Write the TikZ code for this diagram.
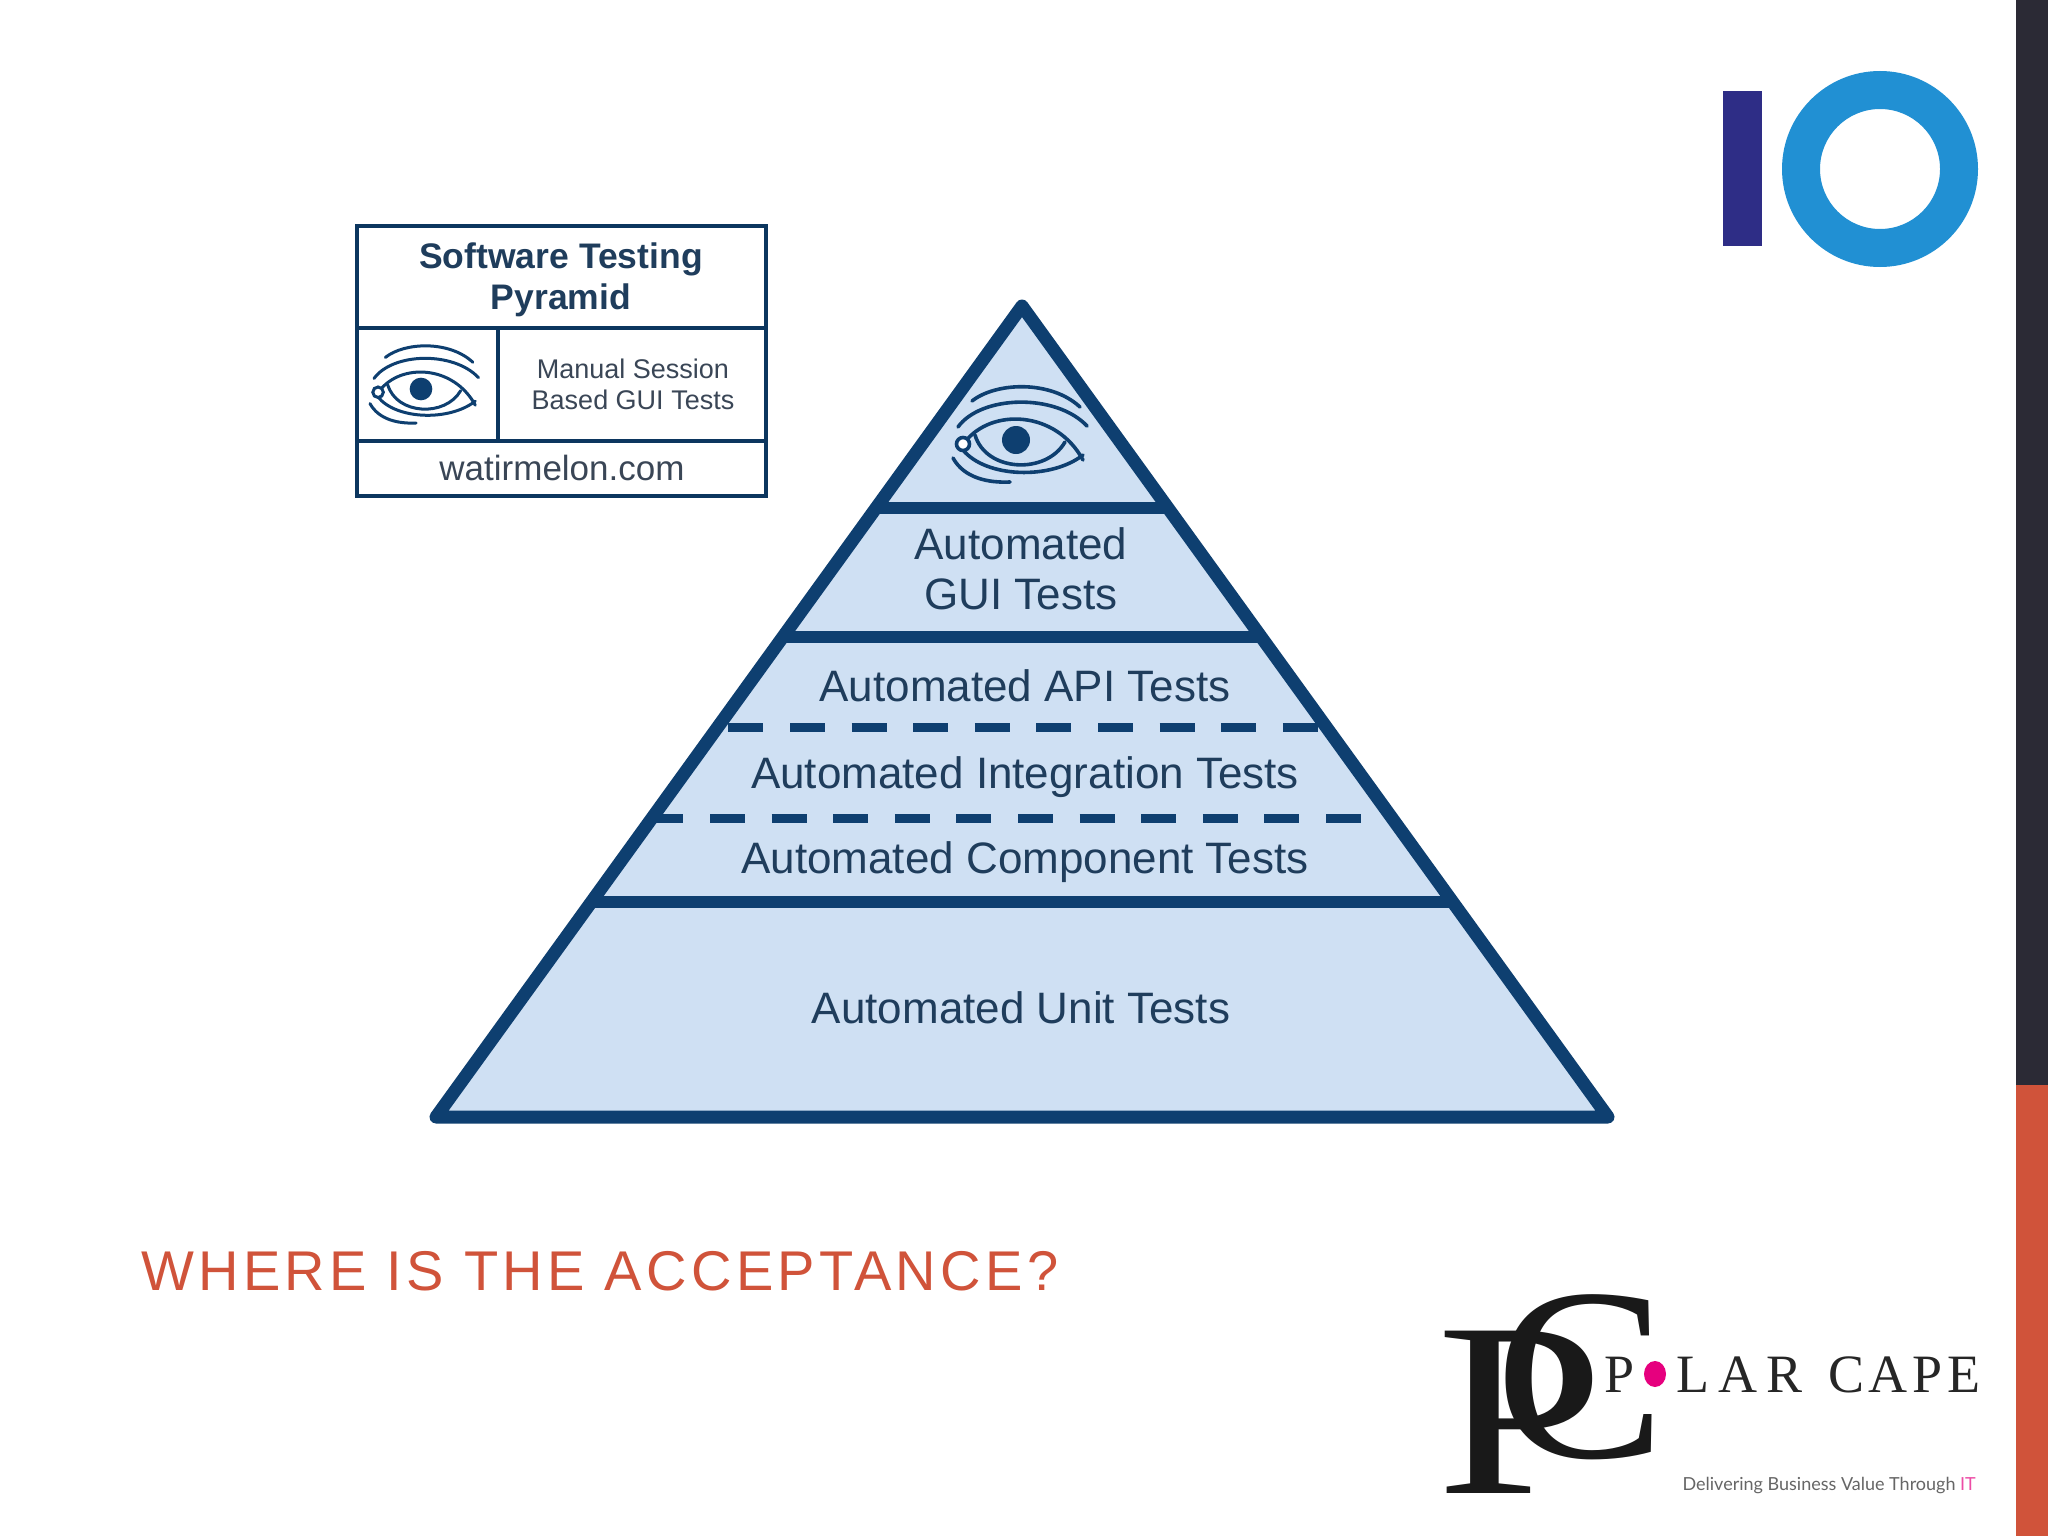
\documentclass[tikz,border=0pt]{standalone}
\usepackage{fontspec}
\setmainfont{Liberation Sans}
\newfontfamily\serifface{Liberation Serif}
\newfontfamily\larface[LetterSpace=17]{Liberation Serif}
\newfontfamily\capeface[LetterSpace=9]{Liberation Serif}
\newfontfamily\titleface[LetterSpace=7.8]{Liberation Sans}
\newfontfamily\tagface{Lato}
\definecolor{pyrline}{HTML}{0E3F70}
\definecolor{pyrfill}{HTML}{CFE0F3}
\definecolor{pyrtext}{HTML}{1F3D5C}
\definecolor{boxtext}{HTML}{3A4656}
\definecolor{barDark}{HTML}{2B2A35}
\definecolor{barOrange}{HTML}{D0533A}
\definecolor{ioDark}{HTML}{2E2D86}
\definecolor{ioBlue}{HTML}{2190D3}
\definecolor{dotPink}{HTML}{E6007E}
\newcommand{\fs}[1]{\fontsize{#1pt}{#1pt}\selectfont}
\tikzset{
  x=1pt,y=-1pt,
  edge/.style={draw=pyrline,line width=13pt,line join=round},
  sep/.style={draw=pyrline,line width=12pt},
  dashsep/.style={draw=pyrline,line width=9pt,dash pattern=on 35pt off 26.6pt},
  boxline/.style={draw=pyrline!85!black,line width=3.4pt,line cap=rect},
  label/.style={inner sep=0pt,align=center,text=pyrtext},
  boxlabel/.style={inner sep=0pt,align=center,text=boxtext},
  eyepic/.pic={
    \begin{scope}[draw=pyrline,line cap=round]
    \draw (-44,-39) .. controls (-20,-58) and (35,-60) .. (64,-33);
    \draw (-58,-13) .. controls (-35,-45) and (40,-47) .. (71,-14);
    \draw (-51,2) .. controls (-25,-32) and (40,-30) .. (67,20);
    \draw (-53,10) .. controls (-30,38) and (35,40) .. (67,15);
    \draw (-41,-5) .. controls (-30,32) and (30,35) .. (49,2);
    \draw (-63,18) .. controls (-52,38) and (-28,43) .. (-6,42);
    \fill[pyrline] (0,0) circle (14);
    \draw[fill=white] (-53,4) circle (6.5);
    \end{scope}
  }
}
\begin{document}
\begin{tikzpicture}
\useasboundingbox (0,0) rectangle (2048,1536);
\fill[white] (0,0) rectangle (2048,1536);
% side bar
\fill[barDark] (2016,0) rectangle (2048,1085);
\fill[barOrange] (2016,1085) rectangle (2048,1536);
% IO logo
\fill[ioDark] (1723,91) rectangle (1762,246);
\fill[ioBlue,even odd rule] (1880,169) circle (98) (1880,169) circle (60);
% pyramid
\coordinate (apex) at (1022,306);
\coordinate (bl) at (436,1117);
\coordinate (br) at (1608,1117);
\fill[pyrfill] (apex) -- (bl) -- (br) -- cycle;
\coordinate (s1l) at (874,508);  \coordinate (s1r) at (1170,508);
\coordinate (s2l) at (782,637);  \coordinate (s2r) at (1262,637);
\coordinate (s3l) at (589,902);  \coordinate (s3r) at (1455,902);
\coordinate (d1l) at (728.4,727); \coordinate (d1r) at (1320,727);
\coordinate (d2l) at (648.4,818); \coordinate (d2r) at (1364,818);
\draw[dashsep] (d1l) -- (d1r);
\draw[dashsep] (d2l) -- (d2r);
\draw[sep] (s1l) -- (s1r);
\draw[sep] (s2l) -- (s2r);
\draw[sep] (s3l) -- (s3r);
\draw[edge] (apex) -- (bl) -- (br) -- cycle;
\pic[line width=3.6pt] at (1016,440) {eyepic};
\node[label,font=\fs{44}] (gui) at (1021,569) {Automated\\[6pt]GUI Tests};
\node[label,font=\fs{44}] (api) at (1025,686) {Automated API Tests};
\node[label,font=\fs{44}] (int) at (1025,777) {Automated Integration Tests};
\node[label,font=\fs{44}] (comp) at (1025,862) {Automated Component Tests};
\node[label,font=\fs{44}] (unit) at (1021,1008) {Automated Unit Tests};
% legend
\coordinate (ltl) at (357,226); \coordinate (lbr) at (766,496);
\draw[boxline] (ltl) rectangle (lbr);
\coordinate (h1l) at (357,328); \coordinate (h1r) at (766,328);
\coordinate (h2l) at (357,441); \coordinate (h2r) at (766,441);
\coordinate (v1t) at (498,328); \coordinate (v1b) at (498,441);
\draw[boxline] (h1l) -- (h1r);
\draw[boxline] (h2l) -- (h2r);
\draw[boxline] (v1t) -- (v1b);
\node[inner sep=0pt,align=center,text=pyrtext,font=\bfseries\fs{35.5}] (ltitle) at (561,280) {Software Testing\\[6pt]Pyramid};
\node[boxlabel,font=\fs{27}] (lmanual) at (633,384) {Manual Session\\[4pt]Based GUI Tests};
\node[boxlabel,font=\fs{35}] (lsite) at (562,468) {watirmelon.com};
\pic[line width=3pt,scale=.81] at (421,389) {eyepic};
% title
\node[inner sep=0pt,anchor=base west,text=barOrange,font=\titleface\fs{56}] (title) at (141,1290) {WHERE IS THE ACCEPTANCE?};
% Polar Cape logo
\node[inner sep=0pt,anchor=base west,text=black!90,font=\serifface\fs{248}] (logoP) at (1436,1493) {\scalebox{1.22}[1]{P}};
\node[inner sep=0pt,anchor=base west,text=black!90,font=\serifface\fs{246}] (logoC) at (1495,1457) {\scalebox{1.04}[1]{C}};
\node[inner sep=0pt,anchor=base west,text=black!85,font=\larface\fs{54}] (lp) at (1604,1392) {P};
\fill[dotPink] (1655,1374) ellipse (11 and 13);
\node[inner sep=0pt,anchor=base west,text=black!85,font=\fs{54}] (lar) at (1676,1392) {{\larface LAR} \hspace{10.5pt}{\capeface CAPE}};
\node[inner sep=0pt,anchor=base east,text=black!60,font=\tagface\fs{18}] (tag) at (1976,1490) {Delivering Business Value Through \textcolor{dotPink!70}{IT}};
\end{tikzpicture}
\end{document}
